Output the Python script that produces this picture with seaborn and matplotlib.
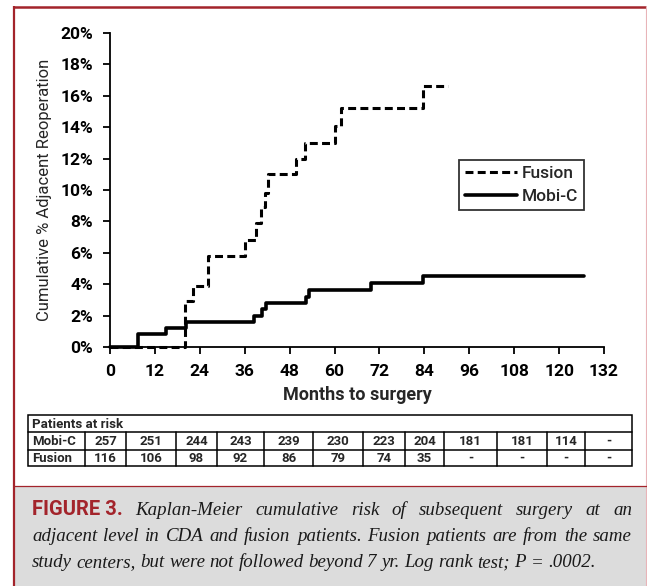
import numpy as np
import pandas as pd
import matplotlib.pyplot as plt
import seaborn as sns

# Kaplan-Meier step values (months, cumulative %)
fusion_months = [0, 20.0, 22.2, 26.2, 36.0, 38.9, 40.3, 41.4, 42.2, 49.8, 52.0, 60.2, 61.6, 83.6, 90.4]
fusion_pct = [0, 2.9, 3.9, 5.8, 6.8, 7.9, 8.9, 9.8, 11.0, 12.0, 13.0, 14.1, 15.2, 16.6, 16.6]

mobic_months = [0, 7.6, 14.9, 20.2, 38.5, 40.6, 41.8, 52.4, 53.2, 69.8, 83.6, 126.7]
mobic_pct = [0, 0.8, 1.2, 1.6, 2.0, 2.4, 2.8, 3.2, 3.6, 4.05, 4.5, 4.5]

x_ticks = list(range(0, 133, 12))
y_ticks = list(range(0, 21, 2))
y_tick_labels = [f"{v}%" for v in y_ticks]

# Patients at risk table
risk_header = "Patients at risk"
risk_rows = ["Mobi-C", "Fusion"]
risk_mobic = ["257", "251", "244", "243", "239", "230", "223", "204", "181", "181", "114", "-"]
risk_fusion = ["116", "106", "98", "92", "86", "79", "74", "35", "-", "-", "-", "-"]

caption_label = "FIGURE 3."
caption_lines = [
    "Kaplan-Meier cumulative risk of subsequent surgery at an",
    "adjacent level in CDA and fusion patients. Fusion patients are from the same",
    "study centers, but were not followed beyond 7 yr. Log rank test; P = .0002.",
]

sns.set_style("ticks")
SANS = ["Roboto", "DejaVu Sans"]
plt.rcParams["font.family"] = SANS

RED = "#a3242b"
W, H = 647, 586

fig = plt.figure(figsize=(W / 100, H / 100), dpi=100)

# background layer in pixel coordinates (frame, table, caption)
bg = fig.add_axes([0, 0, 1, 1], zorder=-1)
bg.set_xlim(0, W)
bg.set_ylim(H, 0)
bg.axis("off")

bg.add_patch(plt.Rectangle((14, 486), W - 15, H - 486, facecolor="#dcdcdc", edgecolor="none"))
bg.plot([13.5, 13.5], [6, H], color=RED, lw=1.6, solid_capstyle="butt")
bg.plot([13, W], [6.5, 6.5], color=RED, lw=1.8, solid_capstyle="butt")
bg.plot([645.5, 645.5], [6, H], color="#e8b4b8", lw=0.8)
bg.plot([14, W], [485.5, 485.5], color=RED, lw=0.9)

# table
col_edges = [28, 85, 126, 176, 217, 264, 313, 363, 405, 444, 497, 547, 585, 632]
row_edges = [415, 432, 450, 466]
bg.add_patch(plt.Rectangle((col_edges[0], row_edges[0]), col_edges[-1] - col_edges[0],
                           row_edges[-1] - row_edges[0], fill=False, edgecolor="black", lw=1.1))
for y in row_edges[1:-1]:
    bg.plot([col_edges[0], col_edges[-1]], [y, y], color="black", lw=1.1)
for x in col_edges[1:-1]:
    bg.plot([x, x], [row_edges[1], row_edges[-1]], color="black", lw=1.1)

bg.text(col_edges[0] + 4, (row_edges[0] + row_edges[1]) / 2 + 0.5, risk_header,
        ha="left", va="center", fontsize=9.5, fontweight="bold")
for r, (name, vals) in enumerate(zip(risk_rows, [risk_mobic, risk_fusion])):
    yc = (row_edges[r + 1] + row_edges[r + 2]) / 2 + 0.5
    bg.text(col_edges[0] + 4, yc, name, ha="left", va="center", fontsize=9.5, fontweight="bold")
    for c, v in enumerate(vals):
        xc = (col_edges[c + 1] + col_edges[c + 2]) / 2
        bg.text(xc, yc, v, ha="center", va="center", fontsize=9.5, fontweight="bold")

# caption, justified by hand
renderer = fig.canvas.get_renderer()
serif = dict(family=["Liberation Serif", "DejaVu Serif"], style="italic", fontsize=13.6, color="#1a1a1a")
label_style = dict(family=SANS, fontweight="bold", fontsize=14.5, color=RED)
left, right = 32, 632
baselines = [515, 541, 567]
for i, line in enumerate(caption_lines):
    words = [(w, serif) for w in line.split(" ")]
    if i == 0:
        words = [(caption_label, label_style)] + words
    texts = [bg.text(0, baselines[i], w, ha="left", va="baseline", **st) for w, st in words]
    widths = [t.get_window_extent(renderer).width for t in texts]
    if i < len(caption_lines) - 1:
        gap = (right - left - sum(widths)) / (len(words) - 1)
    else:
        gap = 4.5
    x = left
    for t, w in zip(texts, widths):
        t.set_x(x)
        x += w + gap

# main plot
ax = fig.add_axes([110 / W, 1 - 347 / H, 494 / W, 314 / H])
sns.lineplot(x=fusion_months, y=fusion_pct, ax=ax, drawstyle="steps-post", color="black",
             lw=2.2, linestyle=(0, (2.6, 1.4)), label="Fusion", clip_on=False)
sns.lineplot(x=mobic_months, y=mobic_pct, ax=ax, drawstyle="steps-post", color="black",
             lw=2.6, label="Mobi-C", clip_on=False)

ax.set_xlim(0, 132)
ax.set_ylim(0, 20)
ax.set_xticks(x_ticks)
ax.set_xticklabels([str(v) for v in x_ticks])
ax.set_yticks(y_ticks)
ax.set_yticklabels(y_tick_labels)
ax.tick_params(axis="both", direction="out", length=5, width=1.3, labelsize=12.5, pad=7,
               colors="black")
for lab in ax.get_xticklabels() + ax.get_yticklabels():
    lab.set_fontweight("bold")
for s in ["left", "bottom"]:
    ax.spines[s].set_linewidth(1.3)
    ax.spines[s].set_color("black")
sns.despine(ax=ax)

ax.set_xlabel("Months to surgery", fontsize=13, fontweight="bold", labelpad=5)
ax.set_ylabel("Cumulative % Adjacent Reoperation", fontsize=12, labelpad=6)

leg = ax.legend(loc="center", bbox_to_anchor=(0.833, 0.516), frameon=True, fancybox=False,
                edgecolor="black", fontsize=12.5, handlelength=3.0, handletextpad=0.3,
                borderpad=0.35, labelspacing=0.45)
leg.get_frame().set_linewidth(1.3)
for t in leg.get_texts():
    t.set_fontweight("medium")

fig.savefig("out.png", dpi=100)
